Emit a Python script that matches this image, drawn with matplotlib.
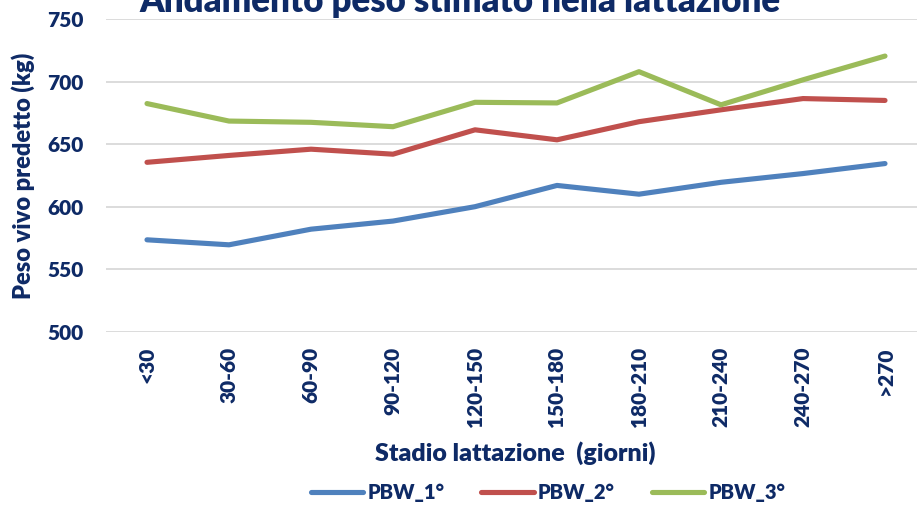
import matplotlib
matplotlib.use("Agg")
import matplotlib.pyplot as plt

# data
stadi = ["<30", "30-60", "60-90", "90-120", "120-150", "150-180",
         "180-210", "210-240", "240-270", ">270"]
pbw_1 = [573.5, 569.5, 582, 588.5, 600, 617, 610, 619.5, 626.5, 634.5]
pbw_2 = [635.5, 641, 646, 642, 661.5, 653.5, 668, 677.5, 686.5, 685]
pbw_3 = [682.5, 668.5, 667.5, 664, 683.5, 683, 708, 681.5, 701.5, 720.5]
y_ticks = [500, 550, 600, 650, 700, 750]

navy = "#0E2A66"
wt = "heavy"
plt.rcParams["font.family"] = ["Lato", "DejaVu Sans"]
plt.rcParams["font.weight"] = wt

fig = plt.figure(figsize=(9.17, 5.05), dpi=100)
ax = fig.add_axes([106 / 917, 0.3432, 820 / 917, 0.6188])

x = range(len(stadi))
ax.plot(x, pbw_1, color="#4F81BD", lw=3.7, solid_capstyle="round", label="PBW_1°")
ax.plot(x, pbw_2, color="#C0504D", lw=3.7, solid_capstyle="round", label="PBW_2°")
ax.plot(x, pbw_3, color="#9BBB59", lw=3.7, solid_capstyle="round", label="PBW_3°")

ax.set_xlim(-0.5, len(stadi) - 0.5)
ax.set_ylim(500, 750)
ax.set_yticks(y_ticks)
ax.set_xticks(list(x))
ax.set_xticklabels(stadi, rotation=90)
ax.grid(axis="y", color="#D9D9D9", lw=1.3)
ax.set_axisbelow(True)
for s in ax.spines.values():
    s.set_visible(False)
ax.tick_params(axis="both", length=0, colors=navy, labelsize=15)
ax.tick_params(axis="y", pad=16)
ax.tick_params(axis="x", pad=11)

ax.set_ylabel("Peso vivo predetto (kg)", color=navy, fontsize=17, fontweight=wt)
ax.yaxis.set_label_coords(-0.086, 0.5)
fig.text(515 / 917, 1 - 453 / 505, "Stadio lattazione  (giorni)", color=navy,
         fontsize=18, fontweight=wt, ha="center", va="center")

fig.text(0.502, 1 - 12 / 505, "Andamento peso stimato nella lattazione", color=navy,
         fontsize=25, fontweight=wt, ha="center", va="baseline")

leg = fig.legend(loc="center", bbox_to_anchor=(548 / 917, 1 - 493 / 505), ncol=3,
                 frameon=False, fontsize=14.5, handlelength=2.6, handletextpad=0.2,
                 columnspacing=1.85)
for t in leg.get_texts():
    t.set_color(navy)

fig.savefig("out.png", dpi=100)
